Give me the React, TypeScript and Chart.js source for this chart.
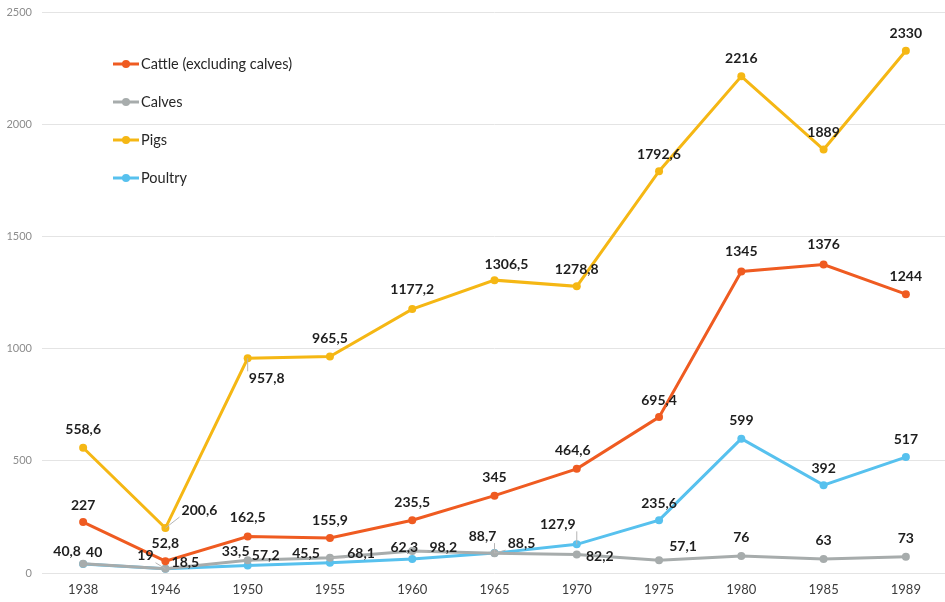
import React, { useEffect, useRef } from "react";
import { Chart, registerables } from "chart.js";

Chart.register(...registerables);

const years = ["1938", "1946", "1950", "1955", "1960", "1965", "1970", "1975", "1980", "1985", "1989"];
const cattle = [227, 52.8, 162.5, 155.9, 235.5, 345, 464.6, 695.4, 1345, 1376, 1244];
const calves = [40.8, 19, 57.2, 68.1, 98.2, 88.5, 82.2, 57.1, 76, 63, 73];
const pigs = [558.6, 200.6, 957.8, 965.5, 1177.2, 1306.5, 1278.8, 1792.6, 2216, 1889, 2330];
const poultry = [40, 18.5, 33.5, 45.5, 62.3, 88.7, 127.9, 235.6, 599, 392, 517];
const seriesNames = ["Cattle (excluding calves)", "Calves", "Pigs", "Poultry"];
const yTicks = [0, 500, 1000, 1500, 2000, 2500];

const colors = ["#EF5B21", "#A7ACAC", "#F5B714", "#57C1EE"];

// label placement: [dx, dy, leader]
const labelOffsets: [number, number, boolean][][] = [
  [[0, -17, false], [0, -18, false], [0, -19, false], [0, -18, false], [0, -18, false], [0, -18, false], [-4, -18, false], [0, -17, false], [0, -20, false], [0, -20, false], [0, -18, false]],
  [[-16, -12, false], [-20, -13, true], [18, -5, false], [31, -4, true], [31, -4, true], [27, -10, true], [23, 2, false], [24, -14, false], [0, -18, false], [0, -18, false], [0, -18, false]],
  [[0, -18, false], [34, -18, true], [19, 20, true], [0, -18, false], [0, -20, false], [12, -16, false], [0, -17, false], [0, -17, false], [0, -18, false], [0, -17, false], [0, -17, false]],
  [[11, -12, false], [20, -6, false], [-12, -14, false], [-24, -9, false], [-8, -12, false], [-12, -17, true], [-19, -20, true], [0, -17, false], [0, -18, false], [0, -17, false], [0, -18, false]],
];

const fmt = (v: number) => String(v).replace(".", ",");

const labelPlugin = {
  id: "valueLabels",
  afterDatasetsDraw(chart: any) {
    const ctx = chart.ctx;
    ctx.save();
    ctx.font = "bold 14px Lato";
    ctx.textAlign = "center";
    ctx.textBaseline = "middle";
    chart.data.datasets.forEach((ds: any, i: number) => {
      const meta = chart.getDatasetMeta(i);
      meta.data.forEach((p: any, j: number) => {
        const [dx, dy, leader] = labelOffsets[i][j];
        const x = p.x + dx;
        const y = p.y + dy;
        const text = fmt(ds.data[j]);
        if (leader) {
          const w = ctx.measureText(text).width / 2 + 2;
          const h = 7;
          const ex = Math.max(x - w, Math.min(p.x, x + w));
          const ey = Math.max(y - h, Math.min(p.y, y + h));
          ctx.strokeStyle = "#b5b5b5";
          ctx.lineWidth = 1;
          ctx.beginPath();
          ctx.moveTo(p.x, p.y);
          ctx.lineTo(ex, ey);
          ctx.stroke();
        }
        ctx.fillStyle = "#1e1e1e";
        ctx.fillText(text, x, y);
      });
    });
    ctx.restore();
  },
};

const legendPlugin = {
  id: "customLegend",
  afterDraw(chart: any) {
    const ctx = chart.ctx;
    ctx.save();
    const ys = [68, 106, 144, 182];
    seriesNames.forEach((name, i) => {
      const y = ys[i];
      ctx.strokeStyle = colors[i];
      ctx.lineWidth = 3;
      ctx.beginPath();
      ctx.moveTo(113, y);
      ctx.lineTo(139, y);
      ctx.stroke();
      ctx.fillStyle = colors[i];
      ctx.beginPath();
      ctx.arc(126, y, 4, 0, Math.PI * 2);
      ctx.fill();
      ctx.fillStyle = "#262626";
      ctx.font = "14.5px Lato";
      ctx.textAlign = "left";
      ctx.textBaseline = "middle";
      ctx.fillText(name, 141, y);
    });
    ctx.restore();
  },
};

export default function App() {
  const ref = useRef<HTMLCanvasElement>(null);
  useEffect(() => {
    if (!ref.current) return;
    const data = [cattle, calves, pigs, poultry];
    const chart = new Chart(ref.current, {
      type: "line",
      data: {
        labels: years,
        datasets: data.map((d, i) => ({
          label: seriesNames[i],
          data: d,
          borderColor: colors[i],
          backgroundColor: colors[i],
          borderWidth: 3,
          pointRadius: 4,
          pointBackgroundColor: colors[i],
          pointBorderWidth: 0,
          tension: 0,
        })),
      },
      options: {
        responsive: false,
        animation: false,
        layout: { padding: { top: 8, right: 0, bottom: 0, left: 0 } },
        plugins: {
          legend: { display: false },
          tooltip: { enabled: false },
        },
        scales: {
          x: {
            offset: true,
            grid: { display: false, drawTicks: false },
            border: { display: false },
            ticks: {
              color: "#3c3c3c",
              font: { family: "Lato", size: 13 },
              padding: 9,
              maxRotation: 0,
            },
            afterFit: (s: any) => {
              s.height = 29;
            },
          },
          y: {
            min: 0,
            max: 2500,
            afterBuildTicks: (s: any) => {
              s.ticks = yTicks.map((v) => ({ value: v }));
            },
            grid: { color: "#e4e4e4", drawTicks: false, lineWidth: 1 },
            border: { display: false },
            ticks: {
              color: "#8c8c8c",
              font: { family: "Lato", size: 11 },
              padding: 10,
              callback: (v: any) => String(v),
            },
            afterFit: (s: any) => {
              s.width = 42;
            },
          },
        },
      },
      plugins: [labelPlugin, legendPlugin],
    });
    return () => chart.destroy();
  }, []);
  return (
    <div style={{ position: "absolute", left: 0, top: 0, width: 945, height: 602, overflow: "hidden", background: "#fff" }}>
      <canvas
        ref={ref}
        width={951}
        height={606}
        style={{ position: "absolute", left: 0, top: -4, width: 951, height: 606 }}
      />
    </div>
  );
}
